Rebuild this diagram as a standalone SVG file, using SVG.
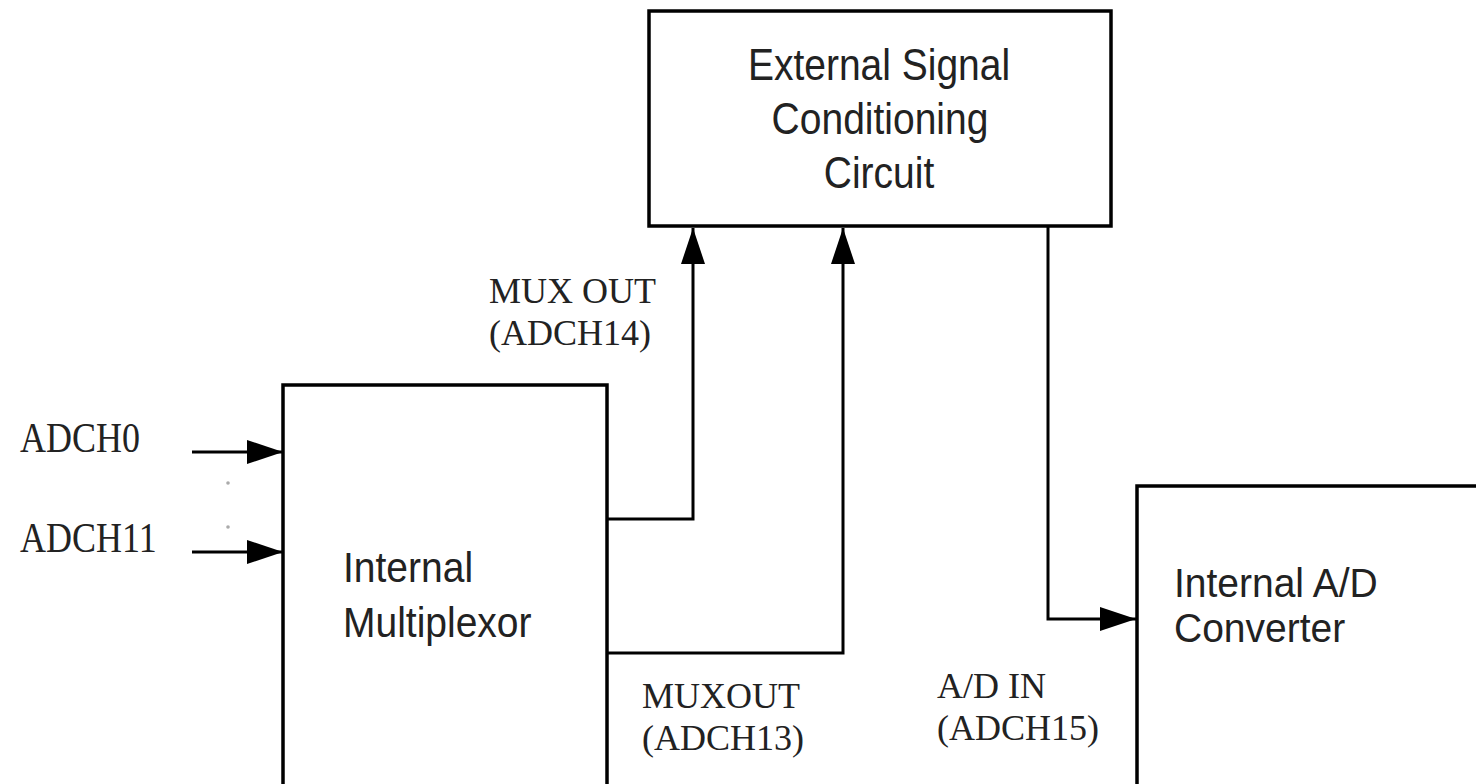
<svg xmlns="http://www.w3.org/2000/svg" width="1476" height="784" viewBox="0 0 1476 784">
<style>
.box{fill:#fff;stroke:#000;stroke-width:3.5}
.wire{fill:none;stroke:#000;stroke-width:3}
.sans{font-family:"Liberation Sans",Arial,sans-serif;font-size:39px;fill:#222}
.serif{font-family:"Liberation Serif","Times New Roman",serif;font-size:36px;fill:#222}
</style>
<defs>
<marker id="arr" markerUnits="userSpaceOnUse" markerWidth="40" markerHeight="26" refX="38" refY="12" orient="auto" viewBox="0 0 40 24">
<path d="M2,0 L38,12 L2,24 z" fill="#000"/>
</marker>
</defs>
<rect width="1476" height="784" fill="#fff"/>
<g id="esc">
<rect class="box" x="649" y="11" width="462" height="215"/>
<text class="sans" text-anchor="middle" transform="translate(879,80) scale(1,1.15)">External Signal</text>
<text class="sans" text-anchor="middle" transform="translate(880,134) scale(1,1.15)">Conditioning</text>
<text class="sans" text-anchor="middle" transform="translate(879,188) scale(1,1.15)">Circuit</text>
</g>
<g id="mux">
<rect class="box" x="283" y="385" width="324" height="420"/>
<text class="sans" transform="translate(343,582) scale(1,1.08)">Internal</text>
<text class="sans" transform="translate(343,637) scale(1,1.08)">Multiplexor</text>
</g>
<g id="adc">
<rect class="box" x="1137" y="486" width="360" height="320"/>
<text class="sans" transform="translate(1174,597) scale(1,1.05)">Internal A/D</text>
<text class="sans" transform="translate(1174,642) scale(1,1.05)">Converter</text>
</g>
<g id="connectors">
<path class="wire" d="M192,452 H283" marker-end="url(#arr)"/>
<path class="wire" d="M192,552 H283" marker-end="url(#arr)"/>
<path class="wire" d="M607,519 H693 V228" marker-end="url(#arr)"/>
<path class="wire" d="M607,653 H843 V228" marker-end="url(#arr)"/>
<path class="wire" d="M1048,226 V619 H1136" marker-end="url(#arr)"/>
<circle cx="228" cy="483" r="1.8" fill="#aaa"/>
<circle cx="228" cy="527" r="1.8" fill="#aaa"/>
</g>
<g id="labels">
<text class="serif" transform="translate(20,452) scale(1,1.15)">ADCH0</text>
<text class="serif" transform="translate(20,552) scale(1,1.15)">ADCH11</text>
<text class="serif" x="489" y="303">MUX OUT</text>
<text class="serif" x="489" y="345">(ADCH14)</text>
<text class="serif" x="642" y="708">MUXOUT</text>
<text class="serif" x="642" y="750">(ADCH13)</text>
<text class="serif" x="937" y="698">A/D IN</text>
<text class="serif" x="937" y="740">(ADCH15)</text>
</g>
</svg>
